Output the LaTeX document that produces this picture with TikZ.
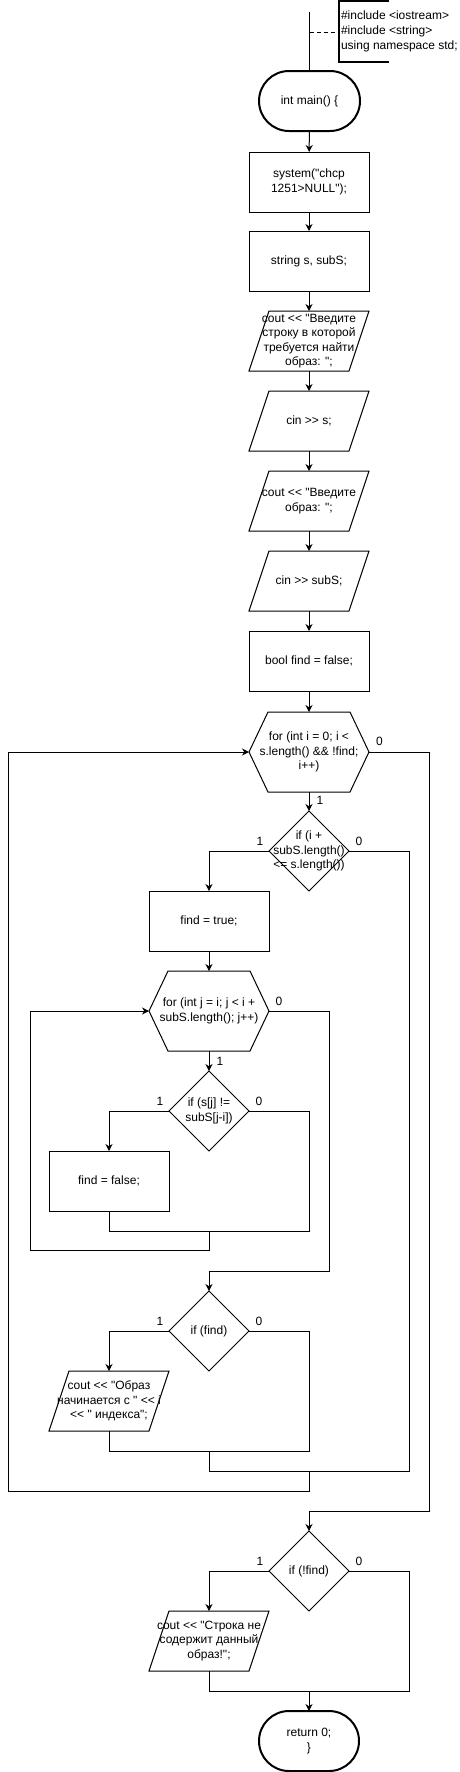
\documentclass[tikz,border=0pt]{standalone}
\usepackage{fontspec}
\newfontfamily\df{Liberation Sans}
\usetikzlibrary{arrows.meta}
\newcommand\mkparal[1]{\draw[line width=1pt] ([xshift=20pt]#1.north west) -- (#1.north east) -- ([xshift=-20pt]#1.south east) -- (#1.south west) -- cycle;}
\newcommand\mkhexa[1]{\draw[line width=1pt] ([xshift=19pt]#1.north west) -- ([xshift=-19pt]#1.north east) -- (#1.east) -- ([xshift=-19pt]#1.south east) -- ([xshift=19pt]#1.south west) -- (#1.west) -- cycle;}
\newcommand\mkdiam[1]{\draw[line width=1pt] (#1.north) -- (#1.east) -- (#1.south) -- (#1.west) -- cycle;}
\tikzset{
  every node/.style={font=\df\fontsize{12}{14.4}\selectfont, align=center, inner sep=0pt, outer sep=0pt},
  base/.style={rectangle, minimum width=120pt, minimum height=60pt},
  proc/.style={base, draw, line width=1pt},
  term/.style={base, draw, line width=2pt, rounded corners=30pt, minimum width=100pt},
  shell/.style={base},
  hexshell/.style={base, minimum height=80pt},
  diashell/.style={base, minimum width=80pt, minimum height=80pt},
  lbl/.style={},
  conn/.style={line width=1pt},
  arr/.style={conn, -{Stealth[length=7pt,width=7pt]}}
}
\begin{document}
\begin{tikzpicture}[x=1pt,y=-1pt]
\fill[white] (0,0) rectangle (459,1772);
\useasboundingbox (0,0) rectangle (459,1772);

% comment
\draw[line width=2pt] (389,1) -- (339,1) -- (339,62) -- (389,62);
\node[anchor=west, align=left, font=\df\fontsize{12}{15}\selectfont] (cmt) at (341,31) {\#include <iostream>\\\#include <string>\\using namespace std;};
\coordinate (top) at (309.5,12);
\coordinate (dl) at (309.5,32);
\coordinate (dr) at (339,32);

\node[term, minimum width=101pt] (main) at (309.5,101) {int main() \{};
\draw[conn] (top) -- (main.north);
\draw[conn, dash pattern=on 4pt off 3pt] (dl) -- (dr);

\node[proc] (sys) at (309,182) {system("chcp\\1251>NULL");};
\node[proc] (str) at (309,261) {string s, subS;};
\node[shell] (out1) at (309,341) {cout << "Введите\\строку в которой\\требуется найти\\образ: ";};
\mkparal{out1}
\node[shell] (in1) at (309,421) {cin >> s;};
\mkparal{in1}
\node[shell] (out2) at (309,501) {cout << "Введите\\образ: ";};
\mkparal{out2}
\node[shell] (in2) at (309,581) {cin >> subS;};
\mkparal{in2}
\node[proc] (bool) at (309,661) {bool find = false;};
\node[hexshell] (hex1) at (309,752) {for (int i = 0; i <\\s.length() \&\& !find;\\i++)};
\mkhexa{hex1}
\node[diashell] (dia1) at (309,851) {if (i +\\subS.length()\\<= s.length())};
\mkdiam{dia1}
\node[proc] (ftrue) at (209,921) {find = true;};
\node[hexshell] (hex2) at (209,1011) {for (int j = i; j < i +\\subS.length(); j++)};
\mkhexa{hex2}
\node[diashell] (dia2) at (209,1111) {if (s[j] !=\\subS[j-i])};
\mkdiam{dia2}
\node[proc] (ffalse) at (109,1181) {find = false;};
\node[diashell] (dia3) at (209,1331) {if (find)};
\mkdiam{dia3}
\node[shell] (out3) at (109,1401) {cout << "Образ\\начинается с " << i\\<< " индекса";};
\mkparal{out3}
\node[diashell] (dia4) at (309,1571) {if (!find)};
\mkdiam{dia4}
\node[shell] (out4) at (209,1641) {cout << "Строка не\\содержит данный\\образ!";};
\mkparal{out4}
\node[term] (ret) at (309,1741) {return 0;\\\}};

% main chain
\draw[arr] (main) -- (sys);
\draw[arr] (sys) -- (str);
\draw[arr] (str) -- (out1);
\draw[arr] (out1) -- (in1);
\draw[arr] (in1) -- (out2);
\draw[arr] (out2) -- (in2);
\draw[arr] (in2) -- (bool);
\draw[arr] (bool) -- (hex1);

% outer loop
\draw[arr] (hex1.south) -- (dia1.north);
\draw[arr] (dia1.west) -| (ftrue.north);
\draw[arr] (ftrue) -- (hex2);

% inner loop
\draw[arr] (hex2.south) -- (dia2.north);
\draw[arr] (dia2.west) -| (ffalse.north);
\draw[conn] (dia2.east) -| (309,1231) -| (ffalse.south);
\coordinate (jm) at (209,1231);
\draw[arr] (jm) -- (209,1250) -| (30,1011) -- (hex2.west);

\draw[arr] (hex2.east) -| (329,1271) -| (dia3.north);
\draw[arr] (dia3.west) -| (out3.north);
\draw[conn] (dia3.east) -| (309,1451) -| (out3.south);
\coordinate (im) at (209,1451);
\draw[conn] (im) -- (209,1471) -| (409,851) -- (dia1.east);
\coordinate (om) at (309,1471);
\draw[arr] (om) -- (309,1491) -| (8,752) -- (hex1.west);

\draw[arr] (hex1.east) -| (429,1511) -| (dia4.north);
\draw[arr] (dia4.west) -| (out4.north);
\draw[conn] (dia4.east) -| (409,1691) -| (out4.south);
\coordinate (em) at (309,1691);
\draw[arr] (em) -- (ret.north);

% labels
\node[lbl] (l1) at (379.5,741) {0};
\node[lbl] (l2) at (320,800) {1};
\node[lbl] (l3) at (260,841) {1};
\node[lbl] (l4) at (359,841) {0};
\node[lbl] (l5) at (279,1001) {0};
\node[lbl] (l6) at (220,1061) {1};
\node[lbl] (l7) at (160,1101) {1};
\node[lbl] (l8) at (259,1101) {0};
\node[lbl] (l9) at (160,1321) {1};
\node[lbl] (l10) at (259,1321) {0};
\node[lbl] (l11) at (260,1561) {1};
\node[lbl] (l12) at (359,1561) {0};
\end{tikzpicture}
\end{document}
